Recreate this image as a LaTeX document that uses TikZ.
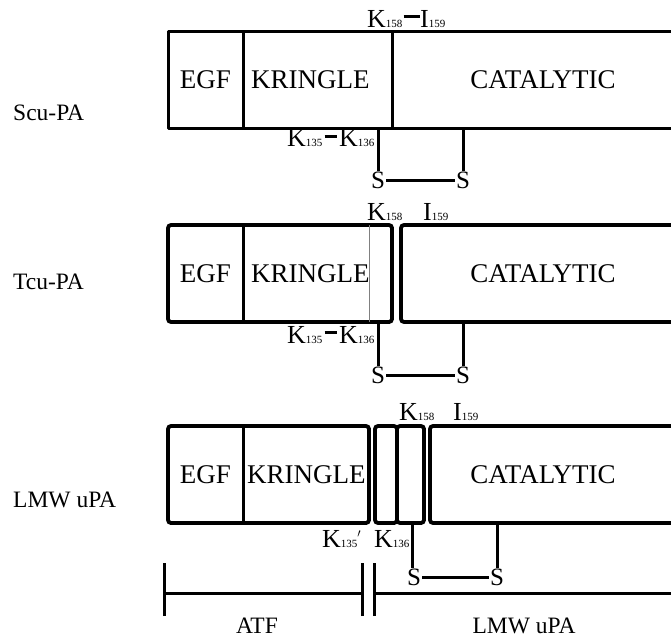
\documentclass[tikz,border=0pt]{standalone}
\usepackage{fontspec}
\setmainfont{Liberation Serif}
\usetikzlibrary{positioning}

\newcommand{\resid}[2]{#1{\fontsize{11}{12}\selectfont #2}}

\begin{document}
\begin{tikzpicture}[
        x = 1pt, y = -1pt, % pixel grid, y runs down
        cell/.style = {minimum height=97, inner sep=0, outer sep=0},
        frame/.style = {line width=3pt, line join=round},
        rframe/.style = {line width=3.8pt, rounded corners=3pt},
        dom/.style = {font=\fontsize{27}{31}\selectfont, inner sep=0},
        tag/.style = {font=\fontsize{23.5}{27}\selectfont, anchor=west, inner sep=0},
        res/.style = {font=\fontsize{26}{28}\selectfont, anchor=base west, inner sep=0},
        ss/.style = {font=\fontsize{25}{28}\selectfont, inner sep=0},
        bond/.style = {line width=3pt},
        link/.style = {line width=3.8pt}
        ]

  \clip (0,0) rectangle (671,639);

  % ---- Scu-PA
  \node[tag] (scu) at (13,113) {Scu-PA};
  \node[cell, minimum width=75, draw, frame] (egfA) at (205.5,80) {};
  \node[cell, minimum width=149, draw, frame, right=0pt of egfA] (krA) {};
  \node[cell, minimum width=300, draw, frame, right=0pt of krA] (catA) {};
  \node[dom] at (egfA) {EGF};
  \node[dom, anchor=west] at ([xshift=8pt]krA.west) {KRINGLE};
  \node[dom] at (543,80) {CATALYTIC};

  \node[res] (k158A) at (367,28) {\resid{K}{158}};
  \node[res] (i159A) at (420,28) {\resid{I}{159}};
  \draw[link, shorten <=1pt] ([yshift=3pt]k158A.east) -- ([yshift=3pt]i159A.west);

  \node[res] (k135A) at (287,147) {\resid{K}{135}};
  \node[res] (k136A) at (339,147) {\resid{K}{136}};
  \draw[link, shorten <=2pt, shorten >=2pt] ([yshift=2pt]k135A.east) -- ([yshift=2pt]k136A.west);

  \node[ss] (s1A) at (378,180) {S};
  \node[ss] (s2A) at (463,180) {S};
  \draw[bond] (s1A.north) -- (s1A.north |- krA.south);
  \draw[bond] (s2A.north) -- (s2A.north |- catA.south);
  \draw[bond, shorten <=1pt, shorten >=1pt] (s1A) -- (s2A);

  % ---- Tcu-PA
  \node[tag] (tcu) at (13,282) {Tcu-PA};
  \node[cell, minimum width=75] (egfB) at (205.5,273.5) {};
  \node[cell, minimum width=126, right=0pt of egfB] (krB) {};
  \node[cell, minimum width=23, right=0pt of krB] (cutB) {};
  \node[cell, minimum width=290, draw, rframe, right=9pt of cutB] (catB) {};
  \draw[rframe] (egfB.north west) rectangle (cutB.south east);
  \draw[frame] (egfB.north east) -- (egfB.south east);
  \draw[gray, line width=0.8pt] (krB.north east) -- (krB.south east);
  \node[dom] at (egfB) {EGF};
  \node[dom, anchor=west] at ([xshift=8pt]krB.west) {KRINGLE};
  \node[dom] at (543,273.5) {CATALYTIC};

  \node[res] (k158B) at (367,220) {\resid{K}{158}};
  \node[res] (i159B) at (423,220) {\resid{I}{159}};

  \node[res] (k135B) at (287,343) {\resid{K}{135}};
  \node[res] (k136B) at (339,343) {\resid{K}{136}};
  \draw[link, shorten <=2pt, shorten >=2pt] ([yshift=2pt]k135B.east) -- ([yshift=2pt]k136B.west);

  \node[ss] (s1B) at (378,375) {S};
  \node[ss] (s2B) at (463,375) {S};
  \draw[bond] (s1B.north) -- (s1B.north |- cutB.south);
  \draw[bond] (s2B.north) -- (s2B.north |- catB.south);
  \draw[bond, shorten <=1pt, shorten >=1pt] (s1B) -- (s2B);

  % ---- LMW uPA
  \node[tag] (lmw) at (13,500) {LMW uPA};
  \node[cell, minimum width=75] (egfC) at (205.5,474.5) {};
  \node[cell, minimum width=126, right=0pt of egfC] (krC) {};
  \draw[rframe] (egfC.north west) rectangle (krC.south east);
  \draw[frame] (egfC.north east) -- (egfC.south east);
  \node[cell, minimum width=22, draw, rframe, right=6pt of krC] (pepC) {};
  \node[cell, minimum width=27, draw, rframe, right=0pt of pepC] (cutC) {};
  \node[cell, minimum width=270, draw, rframe, right=6pt of cutC] (catC) {};
  \node[dom] at (egfC) {EGF};
  \node[dom, anchor=west] at ([xshift=4pt]krC.west) {KRINGLE};
  \node[dom] at (543,474.5) {CATALYTIC};

  \node[res] (k158C) at (399,420) {\resid{K}{158}};
  \node[res] (i159C) at (453,420) {\resid{I}{159}};
  \node[res] (k135C) at (322,547) {\resid{K}{135}$^{\scriptscriptstyle\prime}$};
  \node[res] (k136C) at (374,547) {\resid{K}{136}};

  \node[ss] (s1C) at (414,577) {S};
  \node[ss] (s2C) at (497,577) {S};
  \draw[bond] ([xshift=-2pt]s1C.north) -- ([xshift=-2pt]s1C.north |- cutC.south);
  \draw[bond] (s2C.north) -- (s2C.north |- catC.south);
  \draw[bond, shorten <=1pt, shorten >=1pt] (s1C) -- (s2C);

  % ---- ATF / LMW uPA span
  \coordinate (atfL) at (164,593);
  \coordinate (atfR) at (362,593);
  \coordinate (lmwL) at (374,593);
  \coordinate (lmwR) at (680,593);
  \draw[bond] (atfL) -- (atfR);
  \draw[bond] (lmwL) -- (lmwR);
  \draw[bond] ([yshift=-23pt]atfL) -- ([yshift=30pt]atfL);
  \draw[bond] ([yshift=-23pt]atfR) -- ([yshift=30pt]atfR);
  \draw[bond] ([yshift=-23pt]lmwL) -- ([yshift=30pt]lmwL);
  \node[tag, anchor=base] (atf) at (257,633) {ATF};
  \node[tag, anchor=base] (lmwspan) at (524,633) {LMW uPA};

\end{tikzpicture}
\end{document}
